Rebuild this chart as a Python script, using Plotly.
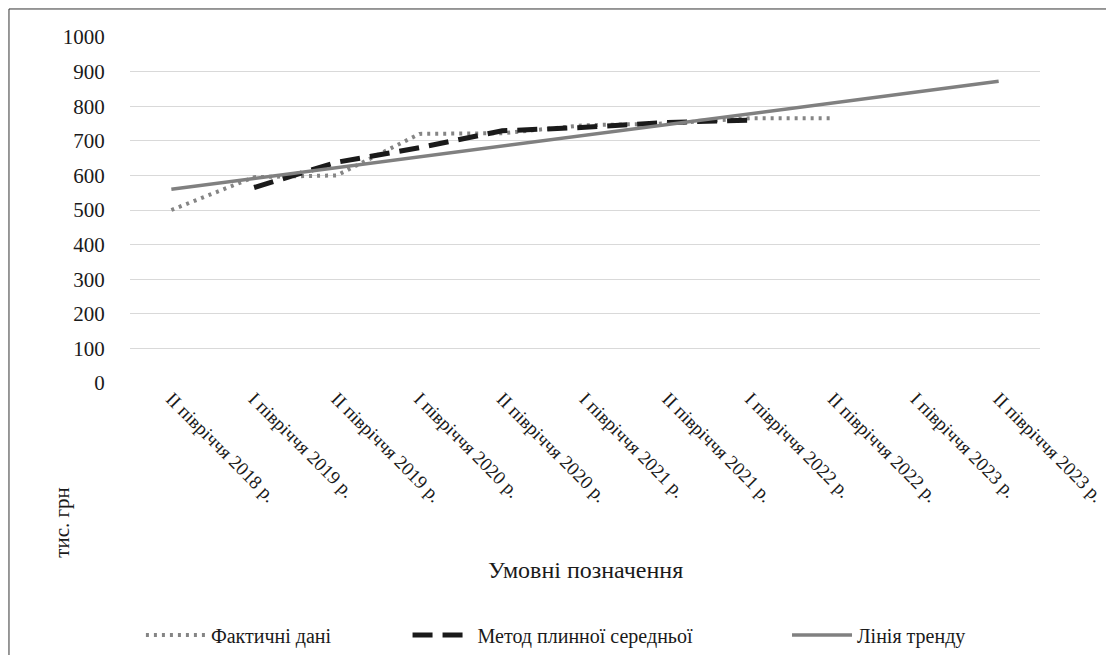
import plotly.graph_objects as go

# Half-year periods on the category axis
periods = [
    "II півріччя 2018 р.", "I півріччя 2019 р.", "II півріччя 2019 р.",
    "I півріччя 2020 р.", "II півріччя 2020 р.", "I півріччя 2021 р.",
    "II півріччя 2021 р.", "I півріччя 2022 р.", "II півріччя 2022 р.",
    "I півріччя 2023 р.", "II півріччя 2023 р.",
]

# Actual values, thousand UAH
actual = [500, 595, 600, 720, 722, 745, 750, 765, 765, None, None]
# Moving average (3 periods)
moving_avg = [None, 565, 638, 680, 729, 739, 753, 760, None, None, None]
# Linear trend with forecast
trend = [560, 591, 622, 654, 685, 716, 747, 778, 810, 841, 872]

y_ticks = [0, 100, 200, 300, 400, 500, 600, 700, 800, 900, 1000]

FONT = "Liberation Serif"
INK = "#1a1a1a"

fig = go.Figure()
fig.add_trace(go.Scatter(
    x=periods, y=actual, mode="lines", name="Фактичні дані", legend="legend",
    line=dict(color="#858585", width=4, dash="3px,5px"),
))
fig.add_trace(go.Scatter(
    x=periods, y=moving_avg, mode="lines", name="Метод плинної середньої",
    legend="legend2",
    line=dict(color=INK, width=5, dash="20px,10px"),
))
fig.add_trace(go.Scatter(
    x=periods, y=trend, mode="lines", name="Лінія тренду", legend="legend3",
    line=dict(color="#808080", width=3.5),
))

legend_common = dict(
    orientation="h", xanchor="left", y=-0.728, yanchor="middle",
    font=dict(family=FONT, size=20, color=INK), itemwidth=60,
)

fig.update_layout(
    width=1106, height=655,
    margin=dict(l=130, r=66, t=37, b=272, autoexpand=False),
    paper_bgcolor="white", plot_bgcolor="white",
    font=dict(family=FONT, color=INK, size=18),
    showlegend=True,
    legend=dict(legend_common, x=0.012),
    legend2=dict(legend_common, x=0.305),
    legend3=dict(legend_common, x=0.722),
    xaxis=dict(
        type="category", range=[-0.5, 10.5], tickangle=45, automargin=False,
        showgrid=False, showline=False, ticks="", zeroline=False,
        tickfont=dict(family=FONT, size=19, color=INK),
    ),
    yaxis=dict(
        range=[0, 1000], tickvals=y_ticks, showgrid=True, automargin=False,
        gridcolor="#d9d9d9", gridwidth=1, zeroline=False, showline=False,
        ticks="outside", ticklen=20, tickcolor="white",
        tickfont=dict(family=FONT, size=21, color=INK),
    ),
    shapes=[dict(
        type="rect", xref="paper", yref="paper",
        x0=-0.133, x1=1.08, y0=-0.85, y1=1.081,
        line=dict(color="#333333", width=1),
    )],
    annotations=[
        dict(text="тис. грн", xref="paper", yref="paper", x=-0.09, y=-0.512,
             showarrow=False, textangle=-90,
             font=dict(family=FONT, size=21, color=INK)),
        dict(text="Умовні позначення", xref="paper", yref="paper", x=0.501,
             y=-0.584, showarrow=False,
             font=dict(family=FONT, size=24, color=INK)),
    ],
)

fig.write_html("out.html")
